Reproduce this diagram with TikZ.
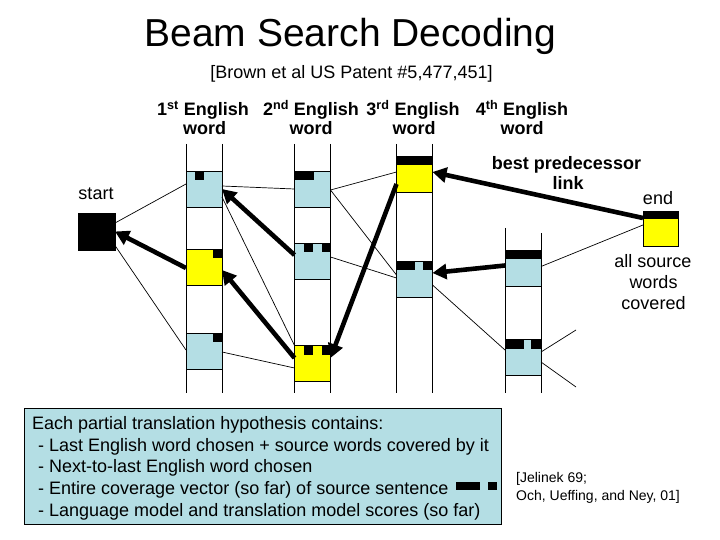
\documentclass[tikz,border=0pt]{standalone}
\usepackage{fontspec}
\setmainfont{Liberation Sans}
\usetikzlibrary{arrows.meta,calc}
\definecolor{lblue}{RGB}{180,222,228}
\definecolor{yel}{RGB}{255,255,0}
\tikzset{
  hyp/.style={draw=black, line width=0.8pt, minimum width=36pt, minimum height=36pt, inner sep=0pt, outer sep=0pt},
  bluehyp/.style={hyp, fill=lblue},
  yelhyp/.style={hyp, fill=yel},
  colline/.style={line width=1pt},
  thinlink/.style={line width=0.7pt},
  best/.style={line width=4.6pt, -{Triangle[length=14pt,width=15pt]}},
  hdr/.style={anchor=base, font=\fontsize{18}{21.6}\selectfont\bfseries, inner sep=0pt},
  lbl/.style={anchor=base, font=\fontsize{18}{21.6}\selectfont, inner sep=0pt},
  body/.style={anchor=base west, font=\fontsize{18}{21.6}\selectfont, inner sep=0pt},
  cite/.style={anchor=base west, font=\fontsize{14}{17}\selectfont, inner sep=0pt},
}
\newcommand\covmark[2]{\fill (#1.north west) ++({9*(#2-1)},0) rectangle ++(9,9);}
\begin{document}
\begin{tikzpicture}[x=1pt,y=-1pt]
\useasboundingbox (0,0) rectangle (720,540);

% title
\node[anchor=base, font=\fontsize{39}{46}\selectfont, inner sep=0pt] (title) at (350.5,47) {Beam Search Decoding};
\node[lbl] (sub) at (351.5,79) {[Brown et al US Patent \#5,477,451]};

% column headers
\node[hdr] (h1a) at (203,116) {1\textsuperscript{st} English};
\node[hdr] (h1b) at (204.5,135) {word};
\node[hdr] (h2a) at (311,116) {2\textsuperscript{nd} English};
\node[hdr] (h2b) at (311,135) {word};
\node[hdr] (h3a) at (413,116) {3\textsuperscript{rd} English};
\node[hdr] (h3b) at (414,135) {word};
\node[hdr] (h4a) at (522,116) {4\textsuperscript{th} English};
\node[hdr] (h4b) at (522,135) {word};

% columns
\draw[colline] (186,144) -- (186,393) (222,144) -- (222,393);
\draw[colline] (294.5,144) -- (294.5,393) (330.5,144) -- (330.5,393);
\draw[colline] (396.5,144) -- (396.5,393) (432.5,144) -- (432.5,393);
\draw[colline] (505,228) -- (505,393) (541,233) -- (541,393);

% hypotheses
\node[draw, fill=black, minimum size=37pt, inner sep=0pt, outer sep=0pt] (S) at (96.5,231.5) {};
\node[bluehyp] (A) at (204,189) {};
\node[yelhyp]  (B) at (204,267) {};
\node[bluehyp] (C) at (204,351) {};
\node[bluehyp] (D) at (312.5,189) {};
\node[bluehyp] (E) at (312.5,261) {};
\node[yelhyp]  (F) at (312.5,363.5) {};
\node[yelhyp]  (G) at (414.5,174) {};
\node[bluehyp] (H) at (414.5,279) {};
\node[bluehyp] (I) at (523,268) {};
\node[bluehyp] (J) at (523,357.5) {};
\node[yelhyp, minimum width=35pt, minimum height=35pt] (End) at (660.5,228.5) {};

% coverage marks
\covmark{A}{2}
\covmark{B}{4}
\covmark{C}{4}
\fill (D.north west) rectangle ++(19,9);
\covmark{E}{2} \covmark{E}{4}
\covmark{F}{2} \covmark{F}{4}
\fill (G.north west) rectangle ++(36,9);
\fill (H.north west) rectangle ++(18.5,9);
\fill ($(H.north west)+(26.5,0)$) rectangle ++(9.5,9);
\fill (I.north west) rectangle ++(36,9);
\fill (J.north west) rectangle ++(19,9);
\fill ($(J.north west)+(26,0)$) rectangle ++(10,9);
\fill (End.north west) rectangle ++(35,8);

% thin links
\draw[thinlink] ($(S.east)+(0,-8.5)$) -- ($(A.west)+(0,-5)$);
\draw[thinlink] ($(S.east)+(0,14)$) -- ($(C.west)+(0,-1)$);
\draw[thinlink] ($(A.east)+(0,-3)$) -- (D.west);
\draw[thinlink] ($(A.east)+(0,8)$) -- (F.north west);
\draw[thinlink] ($(C.east)+(0,1)$) -- ($(F.west)+(0,4.5)$);
\draw[thinlink] ($(D.east)+(0,1)$) -- ($(G.west)+(0,-2)$);
\draw[thinlink] ($(D.east)+(0,1)$) -- ($(H.west)+(0,-4)$);
\draw[thinlink] ($(E.east)+(0,-4)$) -- ($(H.west)+(0,-1)$);
\draw[thinlink] ($(H.east)+(0,6)$) -- ($(J.west)+(0,-7.5)$);
\draw[thinlink] ($(I.east)+(0,-1.5)$) -- ($(End.west)+(0,-3.5)$);
\coordinate (j1) at (576,330);
\coordinate (j2) at (576,387);
\draw[thinlink] ($(J.east)+(0,-5.5)$) -- (j1);
\draw[thinlink] ($(J.east)+(0,4.5)$) -- (j2);

% best predecessor links
\draw[best] ($(B.west)+(0,1)$) -- (S.east);
\draw[best] ($(E.west)+(0,-6)$) -- (A.east);
\draw[best] ($(F.west)+(0,-5.5)$) -- ($(B.east)+(0,3)$);
\draw[best] ($(G.west)+(0,10)$) -- ($(F.east)+(0,-5.5)$);
\draw[best] ($(I.west)+(0,-2.5)$) -- ($(H.east)+(0,-6)$);
\draw[best] ($(End.west)+(0,-10.5)$) -- ($(G.east)+(0,-2)$);

% labels
\node[lbl] (start) at (96,200) {start};
\node[lbl] (endl) at (658,205) {end};
\node[hdr] (bp1) at (566.5,170) {best predecessor};
\node[hdr] (bp2) at (568,190) {link};
\node[lbl] (asw1) at (653,267) {all source};
\node[lbl] (asw2) at (653.5,288) {words};
\node[lbl] (asw3) at (653.5,309) {covered};

% info box
\node[draw=black, line width=1pt, fill=lblue, minimum width=477pt, minimum height=116pt, inner sep=0pt] (info) at (262.5,466) {};
\node[body] (t1) at (32,429) {Each partial translation hypothesis contains:};
\node[body] (t2) at (38,451) {- Last English word chosen + source words covered by it};
\node[body] (t3) at (38,472.5) {- Next-to-last English word chosen};
\node[body] (t4) at (38,494) {- Entire coverage vector (so far) of source sentence};
\node[body] (t5) at (38,516) {- Language model and translation model scores (so far)};
\fill (456,482) rectangle (480,490);
\fill (488,482) rectangle (497,490);

% citation
\node[cite] (c1) at (516,482) {[Jelinek 69;};
\node[cite] (c2) at (516,500) {Och, Ueffing, and Ney, 01]};
\end{tikzpicture}
\end{document}
